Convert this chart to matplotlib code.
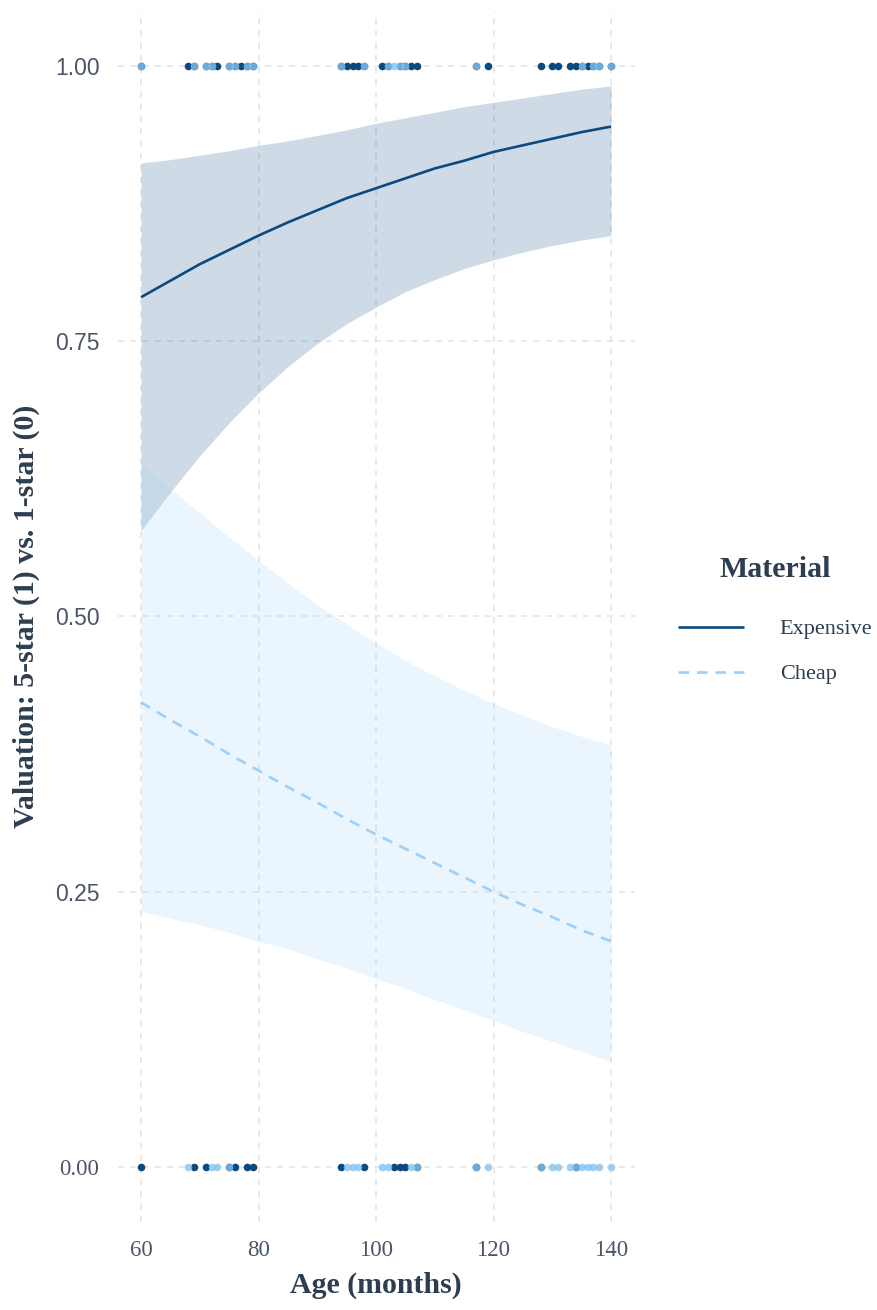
import matplotlib
matplotlib.use("Agg")
import matplotlib.pyplot as plt

# ---- observed responses (age in months), split by material and outcome ----
expensive_age_yes = [60, 68, 69, 71, 72, 73, 75, 76, 77, 78, 79, 94, 95, 96, 97, 98,
                     101, 102, 104, 105, 106, 107, 117, 119, 128, 130, 131, 133, 134,
                     135, 136, 137, 138, 140]
expensive_age_no = [60, 69, 71, 75, 76, 78, 79, 94, 98, 103, 104, 105, 107, 117, 128, 134]
cheap_age_yes = [60, 69, 71, 72, 75, 76, 78, 79, 94, 98, 102, 103, 104, 105, 117,
                 135, 137, 138, 140]
cheap_age_no = [68, 72, 73, 75, 95, 96, 97, 101, 102, 106, 107, 117, 119, 128, 130,
                131, 133, 134, 135, 136, 137, 138, 140]

# ---- fitted probabilities with 95% bands ----
fit_age = [60, 65, 70, 75, 80, 85, 90, 95, 100, 105, 110, 115, 120, 125, 130, 135, 140]
expensive_fit = [0.790, 0.805, 0.820, 0.833, 0.846, 0.858, 0.869, 0.880, 0.889,
                 0.898, 0.907, 0.914, 0.922, 0.928, 0.934, 0.940, 0.945]
expensive_lo = [0.578, 0.613, 0.646, 0.676, 0.703, 0.727, 0.748, 0.766, 0.781,
                0.795, 0.806, 0.816, 0.824, 0.831, 0.837, 0.842, 0.846]
expensive_hi = [0.912, 0.915, 0.919, 0.923, 0.928, 0.932, 0.937, 0.942, 0.948,
                0.953, 0.958, 0.963, 0.967, 0.971, 0.975, 0.979, 0.982]
cheap_fit = [0.422, 0.406, 0.391, 0.375, 0.360, 0.345, 0.331, 0.316, 0.302,
             0.289, 0.276, 0.263, 0.250, 0.238, 0.227, 0.215, 0.205]
cheap_lo = [0.232, 0.226, 0.220, 0.213, 0.205, 0.198, 0.189, 0.181, 0.171,
            0.162, 0.152, 0.143, 0.133, 0.123, 0.114, 0.105, 0.096]
cheap_hi = [0.639, 0.616, 0.594, 0.572, 0.551, 0.530, 0.511, 0.493, 0.476,
            0.460, 0.446, 0.433, 0.421, 0.410, 0.400, 0.391, 0.383]

materials = ["Expensive", "Cheap"]
x_ticks = [60, 80, 100, 120, 140]
y_ticks = [0.00, 0.25, 0.50, 0.75, 1.00]
y_tick_labels = ["0.00", "0.25", "0.50", "0.75", "1.00"]

DARK = "#0b4a80"
LIGHT = "#9dd0f8"
LIGHT_PT = "#85c3f2"
TITLE_COL = "#2d3e50"
TICK_COL = "#4a5568"
SERIF = "Liberation Serif"
SANS = "Liberation Sans"
PT_SIZE = 30

fig = plt.figure(figsize=(8.77, 13.10), dpi=100)
ax = fig.add_axes([0.134, 0.0672, 0.5895, 0.9244])

# confidence bands
ax.fill_between(fit_age, expensive_lo, expensive_hi, color=DARK, alpha=0.2, lw=0, zorder=1)
ax.fill_between(fit_age, cheap_lo, cheap_hi, color=LIGHT, alpha=0.2, lw=0, zorder=1.1)

# fitted curves
ax.plot(fit_age, expensive_fit, color=DARK, lw=1.9, solid_capstyle="butt",
        label=materials[0], zorder=3)
ax.plot(fit_age, cheap_fit, color=LIGHT, lw=1.9, dashes=(4, 3),
        label=materials[1], zorder=3)

# raw observations
ax.scatter(expensive_age_yes, [1] * len(expensive_age_yes), s=PT_SIZE, color=DARK,
           lw=0, zorder=4)
ax.scatter(expensive_age_no, [0] * len(expensive_age_no), s=PT_SIZE, color=DARK,
           lw=0, zorder=4)
ax.scatter(cheap_age_yes, [1] * len(cheap_age_yes), s=PT_SIZE, color=LIGHT_PT,
           alpha=0.8, lw=0, zorder=5)
ax.scatter(cheap_age_no, [0] * len(cheap_age_no), s=PT_SIZE, color=LIGHT_PT,
           alpha=0.8, lw=0, zorder=5)

# axes styling
ax.set_xlim(56, 144)
ax.set_ylim(-0.05, 1.05)
ax.set_xticks(x_ticks)
ax.set_yticks(y_ticks)
ax.set_yticklabels(y_tick_labels)
for sp in ax.spines.values():
    sp.set_visible(False)
ax.tick_params(length=0, pad=13, colors=TICK_COL)
for lab in ax.get_xticklabels():
    lab.set_fontfamily(SERIF)
    lab.set_fontsize(16.5)
for lab in ax.get_yticklabels():
    lab.set_fontfamily(SERIF if lab.get_text() == "0.00" else SANS)
    lab.set_fontsize(16.5)
ax.grid(True, color="#e3e3e3", lw=1.1, dashes=(4, 4))
ax.set_axisbelow(True)

ax.set_xlabel("Age (months)", family=SERIF, fontweight="bold", fontsize=21.5,
              color=TITLE_COL)
ax.xaxis.set_label_coords(0.5, -0.041)
ax.set_ylabel("Valuation: 5-star (1) vs. 1-star (0)", family=SERIF,
              fontweight="bold", fontsize=21.5, color=TITLE_COL)
ax.yaxis.set_label_coords(-0.150, 0.5)

# legend: title placed separately so its gap to the keys can be set freely
fig.text(775 / 877, 1 - 570 / 1310, "Material", family=SERIF, fontweight="bold",
         fontsize=21.5, color=TITLE_COL, ha="center", va="center")
leg = fig.legend(loc="center", bbox_to_anchor=(775 / 877, 1 - 651.5 / 1310),
                 frameon=False, prop={"family": SERIF, "size": 16},
                 handlelength=3.0, handletextpad=1.6, labelspacing=1.1,
                 borderpad=0)
for t in leg.get_texts():
    t.set_color(TITLE_COL)

fig.savefig("out.png", dpi=100, facecolor="white")
